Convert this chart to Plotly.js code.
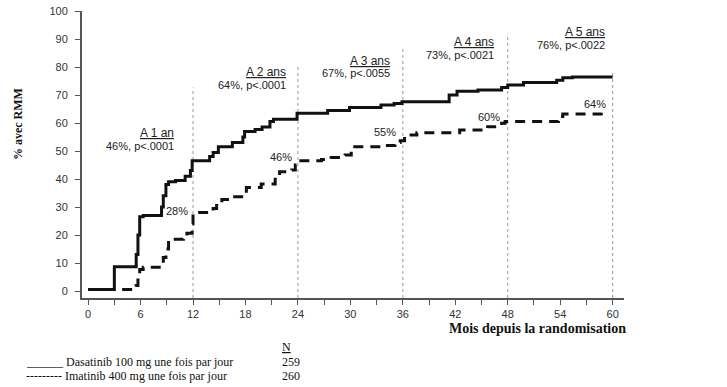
<!DOCTYPE html>
<html>
<head>
<meta charset="utf-8">
<script src="https://cdn.plot.ly/plotly-3.0.1.min.js"></script>
<style>html,body{margin:0;padding:0;background:#fff;}#chart{width:727px;height:387px;}</style>
</head>
<body>
<div id="chart"></div>
<script>
// Dasatinib 100 mg (solid) – step curve: month, cumulative % RMM
var dasaMonths = [0,3.0,5.5,5.7,5.9,6.3,8.4,8.6,8.9,9.2,10.0,11.1,11.7,11.9,13.9,14.3,14.9,16.5,17.7,17.9,19.1,19.9,20.8,21.2,23.9,27.4,29.9,33.5,35.0,35.9,41.3,42.2,44.6,47.3,48.0,49.8,53.6,54.3,55.4,60.0];
var dasaPct    = [0.5,8.7,13,20,26.5,27,30,34,38,39,39.5,41,43,46.5,48,49.5,51.5,53,55,57,57.7,58.6,60.5,61.3,63.5,64.5,65.5,66.4,67,67.6,70,71.3,71.8,72.7,73.6,74.5,75.3,76.2,76.4,76.4];
// Imatinib 400 mg (dashed)
var imaMonths = [0,5.5,5.7,5.9,6.3,8.6,8.9,9.2,10.9,11.3,11.9,12.0,14.3,14.7,15.3,16.2,18.1,19.8,21.4,21.9,23.3,23.7,24.0,26.7,27.8,29.4,30.1,33.6,35.1,35.7,36.2,37.6,42.5,45.7,47.3,47.7,53.8,54.3,58.7,59.1];
var imaPct    = [0.5,2,5,7.7,8.5,12,15,18.5,19.5,20.6,24,28,29.5,31.3,32.7,33.7,37,38.2,41.4,42.6,43.2,45,46.5,47,47.7,48.6,51.5,52,53,53.7,55.7,56.5,57.5,58.7,59.9,60.5,62.3,63.2,63.8,63.8];

// Yearly landmarks
var yearMonths   = [12,24,36,48,60];
var yearLineTop  = [72.7,80.1,87.3,92,78.9];
var yearLabels   = ['A 1 an','A 2 ans','A 3 ans','A 4 ans','A 5 ans'];
var dasaYearText = ['46%, p<.0001','64%, p<.0001','67%, p<.0055','73%, p<.0021','76%, p<.0022'];
var imaYearText  = ['28%','46%','55%','60%','64%'];

// Axis ticks
var yTickVals = [0,10,20,30,40,50,60,70,80,90,100];
var xTickVals = [0,3,6,9,12,15,18,21,24,27,30,33,36,39,42,45,48,51,54,57,60];
var xTickText = ['0','','6','','12','','18','','24','','30','','36','','42','','48','','54','','60'];

// Text
var yTitle = '% avec RMM';
var xTitle = 'Mois depuis la randomisation';
var legendNames = ['Dasatinib 100 mg une fois par jour','Imatinib 400 mg une fois par jour'];
var legendN = ['259','260'];

// placement of yearly text (layout positions)
var yearLabelX = [10.06,22.9,34.8,46.7,59.4];
var yearLabelY = [56.4,78.3,82.3,89.0,92.4];
var pctLabelX  = [11.7,23.5,35.4,47.4,59.5];
var pctLabelY  = [28.6,48.0,56.7,62.3,66.7];

var sans = 'Liberation Sans, Arial, sans-serif';
var serif = 'Liberation Serif, Times New Roman, serif';

var traces = [
  {x: dasaMonths, y: dasaPct, mode:'lines', line:{shape:'hv', color:'#111', width:3}, name:legendNames[0], hoverinfo:'skip'},
  {x: imaMonths, y: imaPct, mode:'lines', line:{shape:'hv', color:'#111', width:3, dash:'10px,7px'}, name:legendNames[1], hoverinfo:'skip'}
];

var shapes = yearMonths.map(function(m,i){
  return {type:'line', xref:'x', yref:'y', x0:m, x1:m, y0:-2.5, y1:yearLineTop[i], line:{color:'#9a9a9a', width:1, dash:'dot'}, layer:'below'};
});

var annotations = [];
yearMonths.forEach(function(m,i){
  annotations.push({xref:'x', yref:'y', x:yearLabelX[i], y:yearLabelY[i], xanchor:'right', yanchor:'middle', showarrow:false,
    text:'<u>'+yearLabels[i]+'</u>', font:{family:sans, size:12, color:'#222'}});
  annotations.push({xref:'x', yref:'y', x:yearLabelX[i], y:yearLabelY[i]-4.6, xanchor:'right', yanchor:'middle', showarrow:false,
    text:dasaYearText[i].replace('<','&lt;'), font:{family:sans, size:11, color:'#222'}});
  annotations.push({xref:'x', yref:'y', x:pctLabelX[i], y:pctLabelY[i], xanchor:'right', yanchor:'middle', showarrow:false,
    text:imaYearText[i], font:{family:sans, size:11, color:'#222'}});
});
annotations.push({xref:'paper', yref:'paper', x:-0.118, y:0.606, textangle:-90, showarrow:false, xanchor:'center', yanchor:'middle',
  text:'<b>'+yTitle+'</b>', font:{family:serif, size:12, color:'#111'}});
annotations.push({xref:'paper', yref:'paper', x:1.0065, y:-0.108, showarrow:false, xanchor:'right', yanchor:'middle',
  text:'<b>'+xTitle+'</b>', font:{family:serif, size:14, color:'#111'}});
annotations.push({xref:'paper', yref:'paper', x:-0.107, y:-0.223, showarrow:false, xanchor:'left', yanchor:'middle',
  text:'______ '+legendNames[0], font:{family:serif, size:12, color:'#111'}});
annotations.push({xref:'paper', yref:'paper', x:-0.107, y:-0.272, showarrow:false, xanchor:'left', yanchor:'middle',
  text:'--------- '+legendNames[1], font:{family:serif, size:12, color:'#111'}});
annotations.push({xref:'paper', yref:'paper', x:0.377, y:-0.17, showarrow:false, xanchor:'center', yanchor:'middle',
  text:'<u>N</u>', font:{family:serif, size:12, color:'#111'}});
annotations.push({xref:'paper', yref:'paper', x:0.366, y:-0.223, showarrow:false, xanchor:'left', yanchor:'middle',
  text:legendN[0], font:{family:serif, size:12, color:'#111'}});
annotations.push({xref:'paper', yref:'paper', x:0.366, y:-0.272, showarrow:false, xanchor:'left', yanchor:'middle',
  text:legendN[1], font:{family:serif, size:12, color:'#111'}});

var layout = {
  width:727, height:387,
  margin:{l:82, r:102.5, t:11, b:89},
  paper_bgcolor:'#fff', plot_bgcolor:'#fff',
  showlegend:false,
  xaxis:{range:[-0.7,61.3], tickvals:xTickVals, ticktext:xTickText, ticks:'outside', ticklen:5, tickwidth:1, tickcolor:'#555',
    showline:true, linecolor:'#555', linewidth:2, showgrid:false, zeroline:false, fixedrange:true,
    tickfont:{family:sans, size:11, color:'#333'}},
  yaxis:{range:[-2.5,100], tickvals:yTickVals, ticks:'outside', ticklen:5, tickwidth:1, tickcolor:'#555', ticklabelstandoff:5,
    showline:true, linecolor:'#555', linewidth:2, showgrid:false, zeroline:false, fixedrange:true,
    tickfont:{family:sans, size:11, color:'#333'}},
  shapes:shapes,
  annotations:annotations
};

Plotly.newPlot('chart', traces, layout, {displayModeBar:false, staticPlot:true});
</script>
</body>
</html>
